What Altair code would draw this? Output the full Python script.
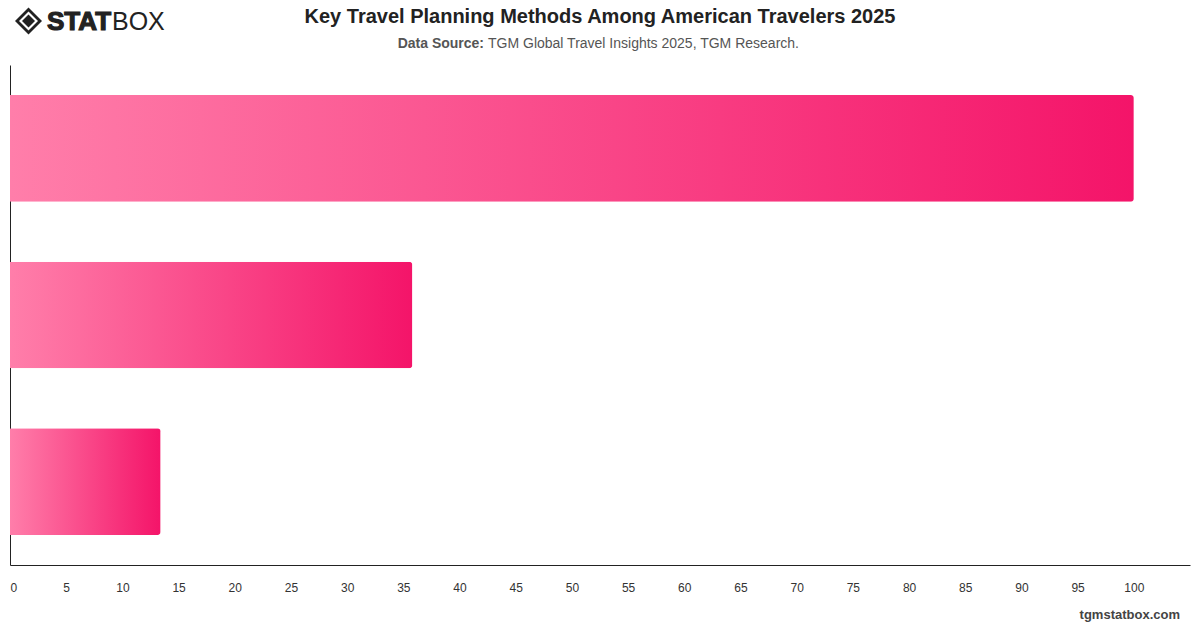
import altair as alt
import pandas as pd

categories = ["Method 1", "Method 2", "Method 3"]
values = [100, 35.8, 13.4]
x_ticks = list(range(0, 101, 5))

title_text = "Key Travel Planning Methods Among American Travelers 2025"
source_bold = "Data Source:"
source_rest = "TGM Global Travel Insights 2025, TGM Research."
footer_text = "tgmstatbox.com"

df = pd.DataFrame({"category": categories, "value": values})

grad = alt.Gradient(
    gradient="linear",
    stops=[alt.GradientStop(color="#ff7eaa", offset=0), alt.GradientStop(color="#f41469", offset=1)],
    x1=0, x2=1, y1=0, y2=0,
)

bars = alt.Chart(df).mark_bar(color=grad, cornerRadiusEnd=3).encode(
    x=alt.X("value:Q", scale=alt.Scale(domain=[0, 105], nice=False),
            axis=alt.Axis(values=x_ticks, title=None, grid=False, ticks=False, labelPadding=17,
                          labelFontSize=12, labelColor="#333333", labelFont="Liberation Sans",
                          domainColor="#222222", labelFlush=True)),
    y=alt.Y("category:N", sort=categories, scale=alt.Scale(paddingInner=0.36, paddingOuter=0.18),
            axis=alt.Axis(title=None, labels=False, ticks=False, domainColor="#222222")),
)

def txt(t, x, y, size, weight="normal", color="#222222", align="center", font="Liberation Sans", stroke=0):
    kw = {}
    if stroke:
        kw = {"stroke": color, "strokeWidth": stroke}
    return alt.Chart(pd.DataFrame({"t": [t]})).mark_text(
        fontSize=size, fontWeight=weight, color=color, align=align, baseline="middle", font=font, **kw
    ).encode(x=alt.value(x), y=alt.value(y), text="t:N")

title = txt(title_text, 590, -48, 20, "bold", "#222222")
sub1 = txt(source_bold, 474, -21, 14, "bold", "#555555", "right")
sub2 = txt(source_rest, 478, -21, 14, "normal", "#555555", "left")
footer = txt(footer_text, 1170, 550, 13, "bold", "#444444", "right")

logo_stat = txt("STAT", 37, -43, 26, "bold", "#222222", "left", "Liberation Sans", 1.2)
logo_box = txt("BOX", 102, -43, 25, "normal", "#222222", "left", "Liberation Sans")

def diamond(size, color):
    return alt.Chart(pd.DataFrame({"a": [0]})).mark_point(
        shape="diamond", filled=True, size=size, color=color, opacity=1
    ).encode(x=alt.value(18.5), y=alt.value(-44))

logo_icon = diamond(729, "#222222") + diamond(361, "#ffffff") + diamond(169, "#222222")

chart = alt.layer(bars, title, sub1, sub2, footer, logo_stat, logo_box, logo_icon).properties(
    width=1180, height=500,
    background="white",
    padding={"left": 10, "top": 65, "right": 10, "bottom": 63},
    autosize=alt.AutoSizeParams(type="none"),
).configure_view(strokeWidth=0, stroke="transparent")

chart.save("out.html", embed_options={"renderer": "svg", "actions": False})
